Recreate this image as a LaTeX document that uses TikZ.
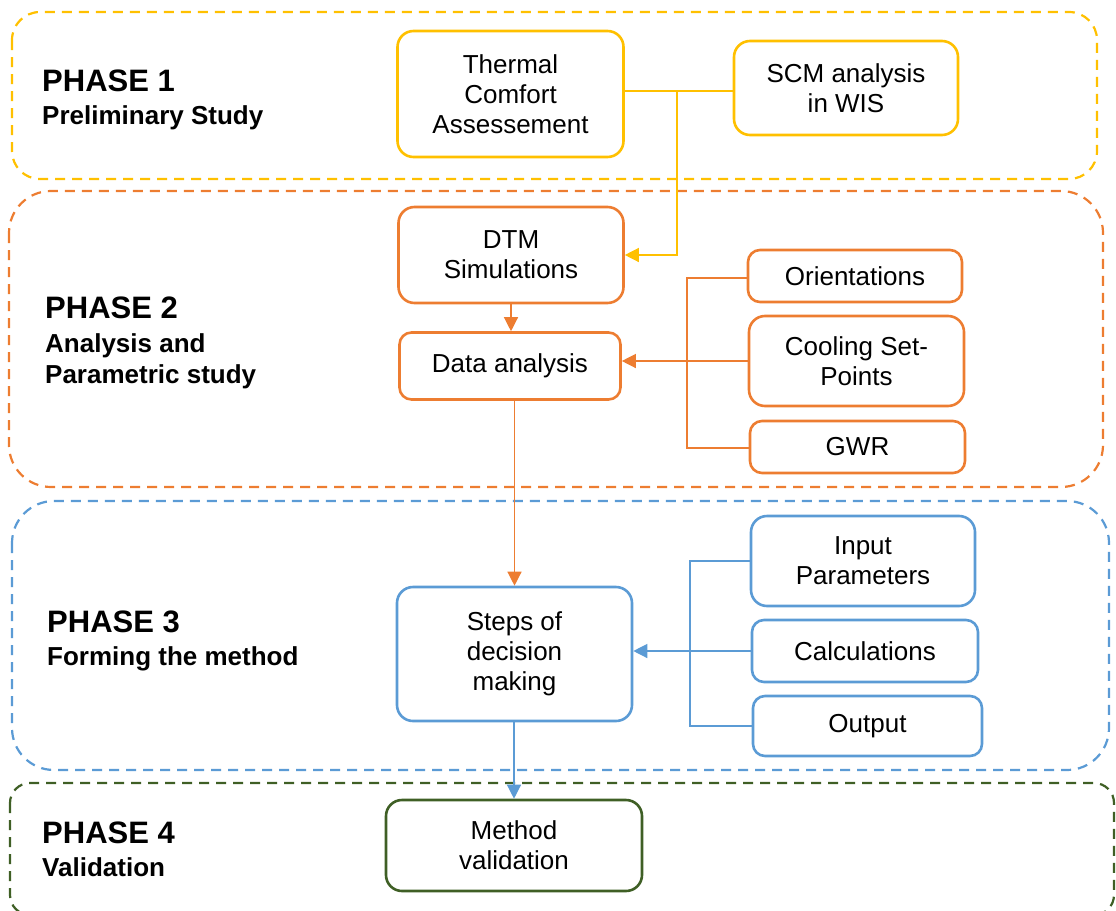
\documentclass[tikz,border=0pt]{standalone}
\usepackage{fontspec}
\setmainfont{Liberation Sans}
\usetikzlibrary{arrows.meta}
\definecolor{cyel}{HTML}{FFC000}
\definecolor{cora}{HTML}{ED7D31}
\definecolor{cblu}{HTML}{5B9BD5}
\definecolor{cgrn}{HTML}{3F5F25}
\tikzset{
  phasebox/.style={line width=2.2pt, dash pattern=on 10pt off 7pt},
  stepbox/.style={draw=#1, line width=2.6pt, rounded corners=16pt, align=center,
    font=\fontsize{26}{30}\selectfont, inner sep=0pt, text=black},
  smallbox/.style={stepbox=#1, rounded corners=12pt},
  conn/.style={line width=1.3pt},
  arr/.style={conn, -{Triangle[length=14pt,width=14pt]}},
  ptitle/.style={anchor=base west, inner sep=0pt, font=\fontsize{31}{31}\selectfont\bfseries},
  psub/.style={anchor=north west, inner sep=0pt, align=left, font=\fontsize{26}{31.5}\selectfont\bfseries}
}
\begin{document}
\begin{tikzpicture}[x=1pt, y=-1pt]
\useasboundingbox (0,0) rectangle (1116,910);
% phase frames
\draw[phasebox, cyel, rounded corners=28pt] (12,12) rectangle (1097,179);
\draw[phasebox, cora, rounded corners=42pt] (9,191) rectangle (1103,487);
\draw[phasebox, cblu, rounded corners=42pt] (12,501) rectangle (1109,770);
\begin{scope}
\clip (0,0) rectangle (1116,910);
\draw[phasebox, cgrn, rounded corners=20pt] (10,783) rectangle (1114,915);
\end{scope}
% phase labels
\node[ptitle] (p1) at (42,91) {PHASE 1};
\node[psub] (p1s) at (42,105) {Preliminary Study};
\node[ptitle] (p2) at (45,318) {PHASE 2};
\node[psub] (p2s) at (45,333) {Analysis and\\Parametric study};
\node[ptitle] (p3) at (47,632) {PHASE 3};
\node[psub] (p3s) at (47,646) {Forming the method};
\node[ptitle] (p4) at (42,843) {PHASE 4};
\node[psub] (p4s) at (42,857) {Validation};
% phase 1 nodes
\node[stepbox=cyel, minimum width=226pt, minimum height=126pt] (tca) at (510.5,94) {Thermal\\Comfort\\Assessement};
\node[stepbox=cyel, minimum width=224pt, minimum height=94pt] (scm) at (846,88) {SCM analysis\\in WIS};
% phase 2 nodes
\node[stepbox=cora, minimum width=225pt, minimum height=96pt] (dtm) at (511,255) {DTM\\Simulations};
\node[smallbox=cora, minimum width=221pt, minimum height=67pt] (data) at (510,366) {Data analysis};
\node[smallbox=cora, minimum width=214pt, minimum height=52pt] (ori) at (855,276) {Orientations};
\node[stepbox=cora, minimum width=215pt, minimum height=90pt] (cool) at (856.5,361) {Cooling Set-\\Points};
\node[smallbox=cora, minimum width=215pt, minimum height=52pt] (gwr) at (857.5,447) {GWR};
% phase 3 nodes
\node[stepbox=cblu, minimum width=235pt, minimum height=134pt] (steps) at (514.5,654) {Steps of\\decision\\making};
\node[stepbox=cblu, minimum width=224pt, minimum height=90pt] (inp) at (863,561) {Input\\Parameters};
\node[smallbox=cblu, minimum width=226pt, minimum height=62pt] (calc) at (865,651) {Calculations};
\node[smallbox=cblu, minimum width=229pt, minimum height=60pt] (outp) at (867.5,726) {Output};
% phase 4 node
\node[stepbox=cgrn, minimum width=256pt, minimum height=91pt] (meth) at (514,845.5) {Method\\validation};
% connectors phase 1
\coordinate (j1) at (677,91);
\draw[conn, cyel] (tca.east |- j1) -- (scm.west |- j1);
\draw[arr, cyel] (j1) |- (dtm.east);
% phase 2
\draw[arr, cora] (dtm.south) -- (dtm.south |- data.north);
\coordinate (b2t) at (687,278);
\coordinate (b2b) at (687,448);
\draw[conn, cora] (ori.west |- b2t) -- (b2t) -- (b2b) -- (gwr.west |- b2b);
\draw[arr, cora] (cool.west) -- (cool.west -| data.east);
\draw[arr, cora] (data.south -| steps.north) -- (steps.north);
% phase 3
\coordinate (b3t) at (690,561);
\coordinate (b3b) at (690,726);
\draw[conn, cblu] (inp.west |- b3t) -- (b3t) -- (b3b) -- (outp.west |- b3b);
\draw[arr, cblu] (calc.west) -- (calc.west -| steps.east);
\draw[arr, cblu] (steps.south -| meth.north) -- (meth.north);
\end{tikzpicture}
\end{document}
